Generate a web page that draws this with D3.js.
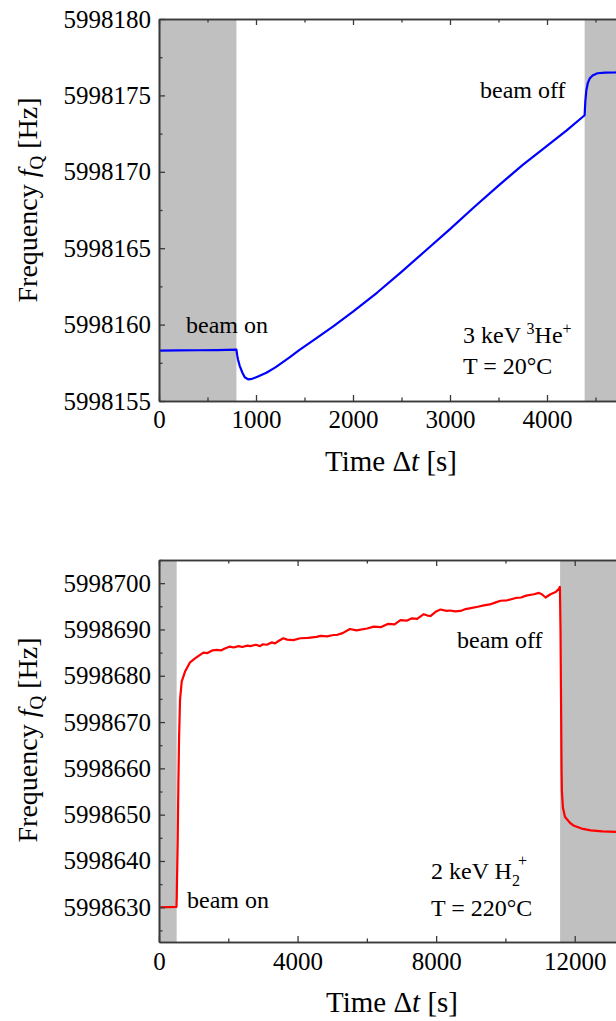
<!DOCTYPE html>
<html><head><meta charset="utf-8">
<script src="https://cdn.jsdelivr.net/npm/d3@7"></script>
<style>
html,body{margin:0;padding:0;background:#fff;}
svg{display:block;overflow:hidden;}
text{font-family:"Liberation Serif","Times New Roman",serif;fill:#000;}
</style></head>
<body>
<svg id="chart" width="616" height="1021"></svg>
<script>
// ---------- Panel A: 3 keV 3He+, T = 20°C ----------
const blueTime = [0,200,400,600,798,806,815,832,860,884,918,960,1020,1107,1200,1346,1449,1620,1800,2000,2250,2500,2750,3000,3250,3500,3750,4000,4200,4388,4395,4405,4420,4440,4470,4520,4600,4700,4850,5000];
const blueFreq = [5998158.30,5998158.31,5998158.32,5998158.33,5998158.36,5998158.0,5998157.7,5998157.3,5998156.85,5998156.55,5998156.42,5998156.45,5998156.6,5998156.85,5998157.2,5998157.85,5998158.35,5998159.1,5998159.9,5998160.85,5998162.1,5998163.45,5998164.85,5998166.25,5998167.7,5998169.1,5998170.45,5998171.7,5998172.7,5998173.7,5998174.6,5998175.3,5998175.8,5998176.1,5998176.3,5998176.45,5998176.49,5998176.5,5998176.52,5998176.53];
const blueShaded = [[0,798],[4388,5000]];
const blueXTicks = [0,1000,2000,3000,4000];
const blueYTicks = [5998155,5998160,5998165,5998170,5998175,5998180];

// ---------- Panel B: 2 keV H2+, T = 220°C ----------
const redTime = [0,250,505,512,520,530,540,550,560,578,607,656,752,897,1050,1186,1282,1400,1550,1668,1800,1900,2049,2150,2300,2400,2550,2632,2800,2915,3000,3114,3250,3350,3450,3588,3700,3877,4079,4300,4551,4657,4850,5041,5128,5300,5512,5700,6005,6200,6400,6600,6800,6969,7150,7300,7450,7643,7750,7836,8000,8125,8300,8400,8550,8703,8850,9000,9200,9377,9550,9700,9859,10050,10300,10450,10600,10822,10966,11050,11160,11300,11450,11544,11573,11590,11605,11620,11630,11660,11720,11870,11979,12200,12461,12800,13213,14000];
const redFreq = [5998630.0,5998630.05,5998630.1,5998632,5998636,5998640,5998644.5,5998651,5998657,5998666,5998674.8,5998678.8,5998680.9,5998682.9,5998683.8,5998684.5,5998685.0,5998684.9,5998685.5,5998685.6,5998685.5,5998685.9,5998686.3,5998686.1,5998686.4,5998686.2,5998686.5,5998686.4,5998686.7,5998686.4,5998686.8,5998686.7,5998687.2,5998687.0,5998687.5,5998688.1,5998687.8,5998687.7,5998688.1,5998688.2,5998688.4,5998688.6,5998688.5,5998688.8,5998688.8,5998689.2,5998690.1,5998689.8,5998690.2,5998690.6,5998690.5,5998691.2,5998691.1,5998692.0,5998691.9,5998692.4,5998692.3,5998693.3,5998693.0,5998692.9,5998693.9,5998694.3,5998694.0,5998694.1,5998693.9,5998694.0,5998694.4,5998694.6,5998694.9,5998695.2,5998695.4,5998695.8,5998696.2,5998696.3,5998696.8,5998696.9,5998697.3,5998697.6,5998697.9,5998697.6,5998696.9,5998697.6,5998698.1,5998698.8,5998699.2,5998690,5998675,5998660,5998655,5998651.5,5998649.5,5998648.2,5998647.6,5998647.0,5998646.6,5998646.4,5998646.3,5998646.3];
const redShaded = [[0,510],[11578,14000]];
const redXTicks = [0,4000,8000,12000];
const redYTicks = [5998630,5998640,5998650,5998660,5998670,5998680,5998690,5998700];

const svg = d3.select("#chart");
const plotLeft = 159, plotRight = 644, plotH = 382;
const frameColor = "#3a3a3a";

function panel(cfg){
  const g = svg.append("g").attr("transform",`translate(0,${cfg.top})`);
  const x = d3.scaleLinear().domain(cfg.xDomain).range([plotLeft, plotRight]);
  const y = d3.scaleLinear().domain(cfg.yDomain).range([plotH, 0]);
  g.selectAll("rect.shade").data(cfg.shaded).join("rect")
    .attr("class","shade")
    .attr("x",d=>x(d[0])).attr("width",d=>x(d[1])-x(d[0]))
    .attr("y",0).attr("height",plotH).attr("fill","#c0c0c0");
  const pts = cfg.t.map((t,i)=>[t,cfg.f[i]]);
  g.append("path").datum(pts)
    .attr("fill","none").attr("stroke",cfg.color).attr("stroke-width",2.2)
    .attr("stroke-linejoin","round")
    .attr("d",d3.line().x(d=>x(d[0])).y(d=>y(d[1])));
  const styleAxis = sel => { sel.select(".domain").attr("stroke",frameColor).attr("stroke-width",1.6);
    sel.selectAll(".tick line").attr("stroke",frameColor).attr("stroke-width",1.3);
    sel.selectAll("text").attr("font-size",25).attr("font-family",'"Liberation Serif","Times New Roman",serif').attr("fill","#000"); };
  const xb = g.append("g").attr("transform",`translate(0,${plotH})`)
    .call(d3.axisBottom(x).tickValues(cfg.xTicks).tickFormat(d3.format("d")).tickSizeInner(-6).tickSizeOuter(0).tickPadding(cfg.xPad));
  styleAxis(xb);
  const xbm = g.append("g").attr("transform",`translate(0,${plotH})`)
    .call(d3.axisBottom(x).tickValues(cfg.xMinor).tickFormat("").tickSizeInner(-3.5).tickSizeOuter(0));
  styleAxis(xbm);
  const xt = g.append("g").call(d3.axisTop(x).tickValues(cfg.xTicks).tickFormat("").tickSizeInner(-6).tickSizeOuter(0));
  styleAxis(xt);
  const xtm = g.append("g").call(d3.axisTop(x).tickValues(cfg.xMinor).tickFormat("").tickSizeInner(-3.5).tickSizeOuter(0));
  styleAxis(xtm);
  const yl = g.append("g").attr("transform",`translate(${plotLeft},0)`)
    .call(d3.axisLeft(y).tickValues(cfg.yTicks).tickFormat(d3.format("d")).tickSizeInner(-6).tickSizeOuter(0).tickPadding(8));
  styleAxis(yl);
  const ylm = g.append("g").attr("transform",`translate(${plotLeft},0)`)
    .call(d3.axisLeft(y).tickValues(cfg.yMinor).tickFormat("").tickSizeInner(-3.5).tickSizeOuter(0));
  styleAxis(ylm);
  const xt2 = g.append("text").attr("x",cfg.xTitleX).attr("y",cfg.xTitleY).attr("text-anchor","middle").attr("font-size",29);
  xt2.append("tspan").text("Time \u0394");
  xt2.append("tspan").attr("font-style","italic").text("t");
  xt2.append("tspan").text(" [s]");
  const yt = g.append("text").attr("transform",`translate(37,${cfg.yTitleY}) rotate(-90)`).attr("text-anchor","middle").attr("font-size",28);
  yt.append("tspan").text("Frequency ");
  yt.append("tspan").attr("font-style","italic").text("f");
  yt.append("tspan").attr("font-size",19).attr("dy",6).text("Q");
  yt.append("tspan").attr("dy",-6).text(" [Hz]");
  return {g,x,y};
}

const A = panel({top:19, xDomain:[0,5000], yDomain:[5998155,5998180], t:blueTime, f:blueFreq, color:"#0000ff",
  shaded:blueShaded, xTicks:blueXTicks, xMinor:[500,1500,2500,3500,4500],
  yTicks:blueYTicks, yMinor:[5998157.5,5998162.5,5998167.5,5998172.5,5998177.5],
  xPad:9, xTitleX:391, xTitleY:452, yTitleY:181});
A.g.append("text").attr("x",186).attr("y",314).attr("font-size",24).text("beam on");
A.g.append("text").attr("x",480).attr("y",79).attr("font-size",24).text("beam off");
{
  const t = A.g.append("text").attr("x",463).attr("y",324).attr("font-size",24);
  t.append("tspan").text("3 keV ");
  t.append("tspan").attr("font-size",16).attr("dy",-9).text("3");
  t.append("tspan").attr("dy",9).text("He");
  t.append("tspan").attr("font-size",16).attr("dy",-9).text("+");
  A.g.append("text").attr("x",463).attr("y",355).attr("font-size",24).text("T = 20\u00B0C");
}

const B = panel({top:560, xDomain:[0,14000], yDomain:[5998622.5,5998705], t:redTime, f:redFreq, color:"#ff0000",
  shaded:redShaded, xTicks:redXTicks, xMinor:[2000,6000,10000,14000],
  yTicks:redYTicks, yMinor:[5998625,5998635,5998645,5998655,5998665,5998675,5998685,5998695,5998705],
  xPad:10, xTitleX:392, xTitleY:452, yTitleY:180});
B.g.append("text").attr("x",187).attr("y",348).attr("font-size",24).text("beam on");
B.g.append("text").attr("x",457).attr("y",88).attr("font-size",24).text("beam off");
{
  const t = B.g.append("text").attr("x",431).attr("y",319).attr("font-size",24);
  t.append("tspan").text("2 keV H");
  t.append("tspan").attr("font-size",16).attr("dy",7).text("2");
  t.append("tspan").attr("font-size",16).attr("dx",-2).attr("dy",-20).text("+");
  B.g.append("text").attr("x",431).attr("y",356).attr("font-size",24).text("T = 220\u00B0C");
}
</script>
</body></html>
